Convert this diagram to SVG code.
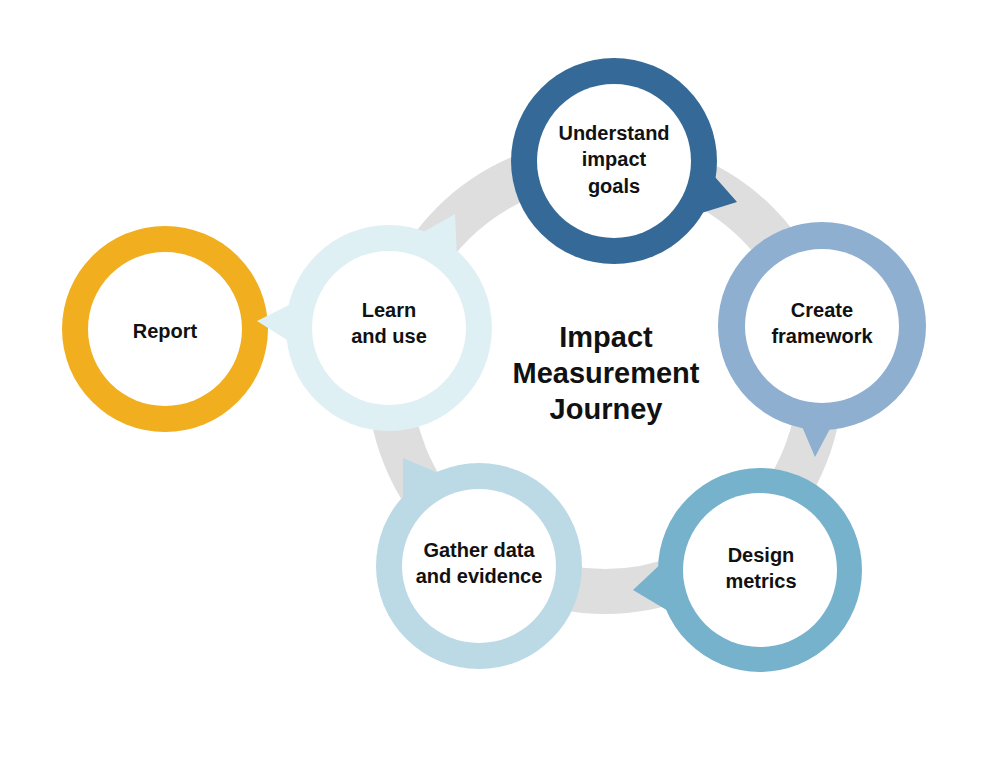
<svg xmlns="http://www.w3.org/2000/svg" width="999" height="772" viewBox="0 0 999 772">
<style>
.lbl{font-family:"Liberation Sans",Arial,sans-serif;font-weight:bold;font-size:20px;fill:#111;text-anchor:middle}
.title{font-family:"Liberation Sans",Arial,sans-serif;font-weight:bold;font-size:29px;fill:#111;text-anchor:middle}
.hole{fill:#fff}
</style>
<rect width="999" height="772" fill="#fff"/>
<g id="connectors">
<circle cx="605" cy="376" r="215.5" fill="none" stroke="#dedede" stroke-width="45"/>
</g>
<g id="title">
<text class="title" x="606" y="347">Impact</text>
<text class="title" x="606" y="383">Measurement</text>
<text class="title" x="606" y="419">Journey</text>
</g>
<g id="report">
<circle cx="165" cy="329" r="103" fill="#f1ae1f"/>
<circle class="hole" cx="165" cy="329" r="77"/>
<text class="lbl" x="165" y="338">Report</text>
</g>
<g id="understand">
<polygon points="700,160 737,202 695,215" fill="#356a98"/>
<circle cx="614" cy="161" r="103" fill="#356a98"/>
<circle class="hole" cx="614" cy="161" r="77"/>
<text class="lbl" x="614" y="140">Understand</text>
<text class="lbl" x="614" y="166">impact</text>
<text class="lbl" x="614" y="193">goals</text>
</g>
<g id="create">
<polygon points="795,410 815,457 840,410" fill="#8eafd0"/>
<circle cx="822" cy="326" r="104" fill="#8eafd0"/>
<circle class="hole" cx="822" cy="326" r="77"/>
<text class="lbl" x="822" y="317">Create</text>
<text class="lbl" x="822" y="343">framework</text>
</g>
<g id="design">
<polygon points="665,560 633,590 675,615" fill="#77b2cc"/>
<circle cx="760" cy="570" r="102" fill="#77b2cc"/>
<circle class="hole" cx="760" cy="570" r="77"/>
<text class="lbl" x="761" y="562">Design</text>
<text class="lbl" x="761" y="588">metrics</text>
</g>
<g id="gather">
<polygon points="403,458 403,505 450,478" fill="#bcdae6"/>
<circle cx="479" cy="566" r="103" fill="#bcdae6"/>
<circle class="hole" cx="479" cy="566" r="77"/>
<text class="lbl" x="479" y="557">Gather data</text>
<text class="lbl" x="479" y="583">and evidence</text>
</g>
<g id="learn">
<polygon points="295,302 257,321 295,345" fill="#dff0f5"/>
<polygon points="418,235 455,214 457,258" fill="#dff0f5"/>
<circle cx="389" cy="328" r="103" fill="#dff0f5"/>
<circle class="hole" cx="389" cy="328" r="77"/>
<text class="lbl" x="389" y="317">Learn</text>
<text class="lbl" x="389" y="343">and use</text>
</g>
</svg>
